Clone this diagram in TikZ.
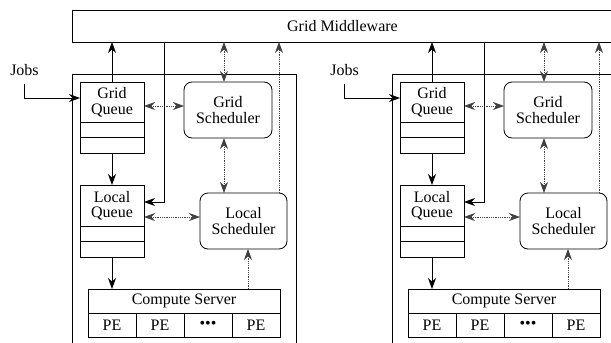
\documentclass[tikz,border=0pt]{standalone}
\usepackage{fontspec}
\setmainfont{Liberation Serif}
\usetikzlibrary{arrows.meta,calc,positioning}

\begin{document}
\begin{tikzpicture}[x=1pt, y=-1pt,
			>={Stealth[length=11pt,width=8pt,inset=3.5pt]},
			every node/.style={font=\fontsize{16}{15.5}\selectfont},
			box/.style={draw, line width=0.8pt, inner sep=0pt, outer sep=0pt},
			queue/.style={box, minimum width=64pt, align=center},
			slot/.style={box, minimum width=64pt, minimum height=15.5pt},
			sched/.style={box, rounded corners=8pt, minimum height=56pt, align=center},
			pe/.style={box, minimum width=48pt, minimum height=24pt},
			link/.style={line width=0.8pt, ->},
			ctrl/.style={line width=0.8pt, densely dotted, black!75}
			]
			\useasboundingbox (0,0) rectangle (611,343);
			\clip (0,0) rectangle (611,343);
			
			\node[box, anchor=north west, minimum width=541pt, minimum height=32pt] (mw) at (72,10) {Grid Middleware};
			
			\foreach \s/\dx in {a/0, b/320} {
				\draw[box] ({72+\dx},74) rectangle ({296+\dx},360);
				
				\node[queue, minimum height=40pt] (gq\s) at ({112+\dx},102) {Grid\\Queue};
				\node[slot, below=0pt of gq\s] (gq\s1) {};
				\node[slot, below=0pt of gq\s1] (gq\s2) {};
				
				\node[queue, minimum height=41pt] (lq\s) at ({112+\dx},205.5) {Local\\Queue};
				\node[slot, below=0pt of lq\s] (lq\s1) {};
				\node[slot, below=0pt of lq\s1] (lq\s2) {};
				
				\node[sched, minimum width=88pt] (gs\s) at ({228+\dx},110) {Grid\\Scheduler};
				\node[sched, minimum width=87pt] (ls\s) at ({243.5+\dx},221) {Local\\Scheduler};
				
				\node[box, minimum width=192pt, minimum height=24pt] (cs\s) at ({184+\dx},301) {Compute Server};
				\node[pe, anchor=north west] (pe\s1) at (cs\s.south west) {PE};
				\node[pe, right=0pt of pe\s1] (pe\s2) {PE};
				\node[pe, right=0pt of pe\s2] (pe\s3) {\textbullet\textbullet\textbullet};
				\node[pe, right=0pt of pe\s3] (pe\s4) {PE};
				
				\node (jobs\s) at ({24.5+\dx},70) {Jobs};
				
				\coordinate (tap\s) at ({164+\dx},202);
				\coordinate (gqr\s) at ([yshift=-4pt]gq\s.east);
				\coordinate (gst\s) at ([xshift=-4pt]gs\s.north);
				\coordinate (gsb\s) at ([xshift=-4pt]gs\s.south);
				\coordinate (lst\s) at ([xshift=35.5pt]ls\s.north);
				\coordinate (lsl\s) at ([yshift=4pt]ls\s.west);
				\coordinate (csr\s) at ([xshift=64pt]cs\s.north);
				
				\draw[link] ([yshift=-5pt]jobs\s.south) |- ([yshift=4pt]gq\s.west);
				\draw[link] (gq\s.north) -- (gq\s.north |- mw.south);
				\draw[link] (gq\s2.south) -- (lq\s.north);
				\draw[link] (lq\s2.south) -- (lq\s2.south |- cs\s.north);
				\draw[link] (tap\s |- mw.south) -- (tap\s) -- (tap\s -| lq\s.east);
				
				\draw[ctrl, <->] (gqr\s) -- (gqr\s -| gs\s.west);
				\draw[ctrl, <->] (gst\s) -- (gst\s |- mw.south);
				\draw[ctrl, <->] (gsb\s) -- (gsb\s |- ls\s.north);
				\draw[ctrl, ->] (lst\s) -- (lst\s |- mw.south);
				\draw[ctrl, <->] (lsl\s -| lq\s.east) -- (lsl\s);
				\draw[ctrl, ->] (csr\s) -- (csr\s |- ls\s.south);
			}
		\end{tikzpicture}
\end{document}
